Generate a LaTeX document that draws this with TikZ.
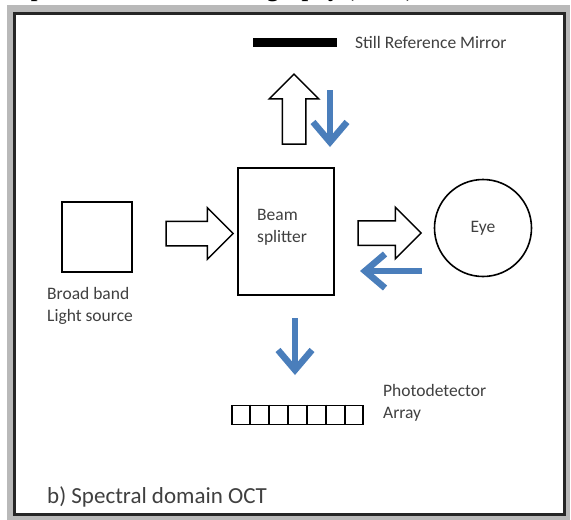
\documentclass[tikz,border=0pt]{standalone}
\usepackage{fontspec}
\setmainfont{Carlito}
\newfontfamily\titlefont{Liberation Serif}
\usepackage{tikz}
\usetikzlibrary{shapes.arrows,arrows.meta,calc}
\definecolor{octblue}{RGB}{74,126,187}
\definecolor{labelgray}{RGB}{64,64,64}
\tikzset{
part/.style={
  draw=black,
  line width=1.6pt,
  inner sep=0pt,
  fill=white
},
hollow/.style={
  single arrow,
  draw=black,
  line width=1.5pt,
  fill=white,
  inner sep=0pt,
  text height=23pt,
  text depth=0pt,
  single arrow head extend=13.5pt
},
back/.style={
  draw=octblue,
  line width=6.5pt,
  -{Straight Barb[length=20pt,width=34pt]}
},
lbl/.style={
  text=labelgray,
  font=\fontsize{17.5}{22}\selectfont,
  align=left,
  inner sep=0pt
}
}
\begin{document}
\begin{tikzpicture}[x=1pt,y=-1pt]
\useasboundingbox (0,0) rectangle (571,520);
\clip (0,0) rectangle (571,520);
% the frame
\fill[gray!55] (7,5) rectangle (570,520);
\fill[white] (16,15) rectangle (563,513);
\draw[black!85,line width=3pt] (14.5,13.5) rectangle (564.5,514.5);
\node[anchor=base west,inner sep=0pt,font=\titlefont\bfseries\fontsize{24}{28}\selectfont] (title) at (12,-4) {Optical Coherence Tomography (OCT)};
% the parts
\node[part,minimum width=70pt,minimum height=70pt] (source) at (97,237) {};
\node[part,minimum width=96pt,minimum height=127pt] (splitter) at (286,231.5) {};
\node[part,circle,minimum size=97pt] (eye) at (483,228) {};
\node[fill=black,inner sep=0pt,minimum width=84pt,minimum height=9pt] (mirror) at (295,42.5) {};
\node[part,line width=1.8pt,minimum width=131pt,minimum height=19pt] (detector) at (297.5,415) {};
\foreach \i in {1,...,6}
{
  \draw[line width=1.2pt]
    ($(detector.north west)!\i/7!(detector.north east)$) --
    ($(detector.south west)!\i/7!(detector.south east)$);
}
% the labels
\node[lbl,anchor=west] (mirrortext) at (355,42) {Still Reference Mirror};
\node[lbl,anchor=north west] (sourcetext) at (47,287) {Broad band\\Light source};
\node[lbl,anchor=north west] (splittertext) at (257,209) {Beam\\splitter};
\node[lbl] (eyetext) at (eye.center) {Eye};
\node[lbl,anchor=north west] (detectortext) at (383,384) {Photodetector\\Array};
\node[text=labelgray,font=\fontsize{23}{28}\selectfont,anchor=west,inner sep=0pt] (caption) at (47,497) {b) Spectral domain OCT};
% the hollow arrows
\node[hollow,minimum height=67pt] (toward) at (193.5,233.5) {};
\node[hollow,minimum height=63pt] (toeye) at (383.5,233) {};
\node[hollow,minimum height=70pt,text height=22pt,single arrow head extend=13pt,rotate=90] (tomirror) at (294,115) {};
% the returning light
\coordinate (mirrorback) at (330,90);
\coordinate (mirrorhit) at (330,147);
\coordinate (eyeback) at (422,271);
\coordinate (eyehit) at (360,271);
\coordinate (splitout) at (295,318);
\coordinate (detectorhit) at (295,375);
\draw[back] (mirrorback) -- (mirrorhit);
\draw[back] (eyeback) -- (eyehit);
\draw[back] (splitout) -- (detectorhit);
\end{tikzpicture}
\end{document}
